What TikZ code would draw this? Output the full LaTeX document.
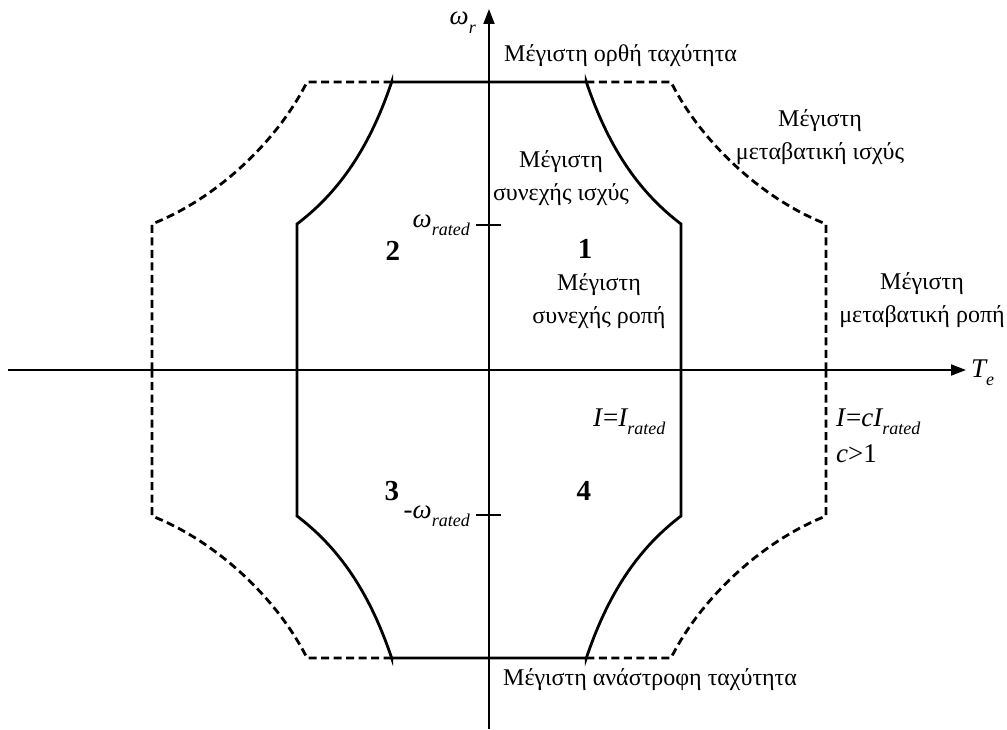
\documentclass[tikz,border=0pt]{standalone}
\usepackage{fontspec}
\setmainfont{Liberation Serif}
\usetikzlibrary{arrows.meta}
\newcommand{\subtxt}[1]{\raisebox{-0.7ex}{\fontsize{18}{18}\selectfont\itshape #1}}
\begin{document}
\begin{tikzpicture}[x=1pt,y=1pt,
  font=\fontsize{24}{33}\selectfont,
  axisline/.style={line width=1.9pt,-{Triangle[length=15pt,width=11pt]}},
  limline/.style={line width=2.8pt},
  transline/.style={line width=2.8pt,dash pattern=on 8pt off 4.5pt},
  tickline/.style={line width=1.9pt},
  lbl/.style={align=center,inner sep=0pt},
  num/.style={inner sep=0pt,font=\fontsize{29}{29}\selectfont\bfseries},
  sym/.style={inner sep=0pt,font=\fontsize{27}{27}\selectfont\itshape}]
\useasboundingbox (-489,-359) rectangle (518,370);
% axes
\coordinate (xs) at (-481,0);
\coordinate (xe) at (477,0);
\coordinate (ys) at (0,-359);
\coordinate (ye) at (0,361);
\draw[axisline] (xs) -- (xe);
\draw[axisline] (ys) -- (ye);
% limit curves, one quadrant at a time
\foreach \sx/\sy in {1/1,-1/1,-1/-1,1/-1}{
  \begin{scope}[xscale=\sx,yscale=\sy]
    \draw[limline] (0,288) -- (97.33,288)
      -- plot[domain=97.33:192,samples=50] (\x,{280.32/\x*100}) -- (192,0);
    \draw[transline] (97.33,288) -- (182,288)
      .. controls (211,230) and (271,172) .. (337,146) -- (337,0);
  \end{scope}}
% ticks
\coordinate (tpl) at (-13,145);
\coordinate (tpr) at (12,145);
\coordinate (tnl) at (-13,-145);
\coordinate (tnr) at (12,-145);
\draw[tickline] (tpl) -- (tpr);
\draw[tickline] (tnl) -- (tnr);
% axis labels
\node[sym,anchor=base east] (wr) at (-13,345) {ω\subtxt{r}};
\node[sym,anchor=base west] (te) at (482,-7) {T\subtxt{e}};
\node[sym,anchor=base east] (wrated) at (-19,143) {ω\subtxt{rated}};
\node[sym,anchor=base east] (nwrated) at (-19,-148) {-ω\subtxt{rated}};
% quadrant numbers
\node[num] (q1) at (96,121) {1};
\node[num] (q2) at (-96,119) {2};
\node[num] (q3) at (-97,-121) {3};
\node[num] (q4) at (95,-121) {4};
% texts
\node[lbl,anchor=west] (tmaxf) at (15,314) {Μέγιστη ορθή ταχύτητα};
\node[lbl,anchor=west] (tmaxr) at (14,-310) {Μέγιστη ανάστροφη ταχύτητα};
\node[lbl] (ptr) at (331,233) {Μέγιστη\\μεταβατική ισχύς};
\node[lbl] (pco) at (72,192) {Μέγιστη\\συνεχής ισχύς};
\node[lbl] (tco) at (110,69) {Μέγιστη\\συνεχής ροπή};
\node[lbl] (ttr) at (433,70) {Μέγιστη\\μεταβατική ροπή};
\node[sym,anchor=base west] (ir) at (104,-56) {I\textup{=}I\subtxt{rated}};
\node[sym,anchor=base west] (icr) at (347,-56) {I\textup{=}cI\subtxt{rated}};
\node[sym,anchor=base west] (cg) at (347,-92) {c\textup{>1}};
\end{tikzpicture}
\end{document}
